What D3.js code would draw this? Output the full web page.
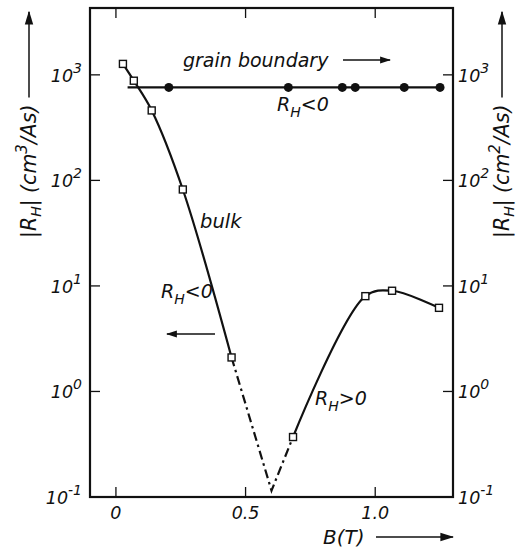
<!DOCTYPE html>
<html><head><meta charset="utf-8">
<script src="https://cdn.jsdelivr.net/npm/d3@7"></script>
<style>
body{margin:0;background:#fff;}
text{font-family:"DejaVu Sans",sans-serif;font-style:italic;fill:#111;}
</style></head>
<body><svg id="c" width="525" height="550"></svg>
<script>
// ---- data ----
const bulkNegB = [0.027, 0.069, 0.138, 0.258, 0.446];
const bulkNegR = [1270, 880, 460, 82, 2.1];
const bulkDipB = [0.446, 0.600, 0.683];
const bulkDipR = [2.1, 0.115, 0.37];
const bulkPosB = [0.683, 0.962, 1.065, 1.246];
const bulkPosR = [0.37, 8.0, 9.0, 6.2];
const gbLineB = [0.045, 1.25];
const gbLineR = [760, 760];
const gbB = [0.204, 0.665, 0.873, 0.923, 1.112, 1.25];
const gbR = [760, 760, 760, 760, 760, 760];
const xTicks = [0, 0.5, 1.0];
const xTickLabels = ["0", "0.5", "1.0"];
const yTicks = [0.1, 1, 10, 100, 1000];
const yTickExps = ["-1", "0", "1", "2", "3"];

const svg = d3.select("#c");
const L = 90, R = 453, T = 8, B = 497;
const x = d3.scaleLinear().domain([-0.1, 1.3]).range([L, R]);
const y = d3.scaleLog().domain([0.1, 4300]).range([B, T]);

const defs = svg.append("defs");
defs.append("marker").attr("id","ah").attr("viewBox","0 0 10 10").attr("refX",9).attr("refY",5)
  .attr("markerWidth",11).attr("markerHeight",11).attr("markerUnits","userSpaceOnUse").attr("orient","auto")
  .append("path").attr("d","M0,1.8 L10,5 L0,8.2 Z").attr("fill","#111");
defs.append("marker").attr("id","ahBig").attr("viewBox","0 0 10 10").attr("refX",9).attr("refY",5)
  .attr("markerWidth",14).attr("markerHeight",14).attr("markerUnits","userSpaceOnUse").attr("orient","auto")
  .append("path").attr("d","M0,2 L10,5 L0,8 Z").attr("fill","#111");

// frame
svg.append("rect").attr("x",L).attr("y",T).attr("width",R-L).attr("height",B-T)
  .attr("fill","none").attr("stroke","#111").attr("stroke-width",2.2);

// ticks (inward)
const tl = 10;
xTicks.forEach(v=>{
  svg.append("line").attr("x1",x(v)).attr("x2",x(v)).attr("y1",B).attr("y2",B-tl).attr("stroke","#111").attr("stroke-width",1.3);
  svg.append("line").attr("x1",x(v)).attr("x2",x(v)).attr("y1",T).attr("y2",T+tl).attr("stroke","#111").attr("stroke-width",1.3);
});
yTicks.forEach(v=>{
  svg.append("line").attr("x1",L).attr("x2",L+tl).attr("y1",y(v)).attr("y2",y(v)).attr("stroke","#111").attr("stroke-width",1.3);
  svg.append("line").attr("x1",R).attr("x2",R-tl).attr("y1",y(v)).attr("y2",y(v)).attr("stroke","#111").attr("stroke-width",1.3);
});

// x tick labels
xTicks.forEach((v,i)=>{
  svg.append("text").attr("x",x(v)).attr("y",519).attr("text-anchor","middle")
    .attr("font-size",17.5).text(xTickLabels[i]);
});
// y tick labels (left and right)
function powLabel(g, xx, yy, exp, anchor){
  const t = g.append("text").attr("x",xx).attr("y",yy+7).attr("text-anchor",anchor).attr("font-size",17.5);
  t.append("tspan").text("10");
  t.append("tspan").attr("dy",-9).attr("font-size",14).text(exp);
  return t;
}
yTicks.forEach((v,i)=>{
  powLabel(svg, 82, y(v), yTickExps[i], "end");
  powLabel(svg, 458, y(v), yTickExps[i], "start");
});

// x axis label
svg.append("text").attr("x",323).attr("y",544).attr("font-size",20).text("B(T)");
svg.append("line").attr("x1",376).attr("x2",453).attr("y1",537).attr("y2",537)
  .attr("stroke","#111").attr("stroke-width",1.5).attr("marker-end","url(#ahBig)");

// vertical axis labels
function vLabel(cx, exp){
  const g = svg.append("g").attr("transform",`translate(${cx},238) rotate(-90)`);
  const t = g.append("text").attr("x",0).attr("y",0).attr("font-size",20.5);
  t.append("tspan").text("|R");
  t.append("tspan").attr("dy",5).attr("font-size",14).text("H");
  t.append("tspan").attr("dy",-5).text("| (cm");
  t.append("tspan").attr("dy",-9).attr("font-size",15).text(exp);
  t.append("tspan").attr("dy",9).text("/As)");
  const w = t.node().getComputedTextLength();
  g.append("line").attr("x1",w+7).attr("x2",226).attr("y1",-7).attr("y2",-7)
    .attr("stroke","#111").attr("stroke-width",1.5).attr("marker-end","url(#ahBig)");
}
vLabel(36, "3");
vLabel(509, "2");

// curves
const line = d3.line().x(d=>x(d[0])).y(d=>y(d[1]));
const zip = (a,b)=>a.map((v,i)=>[v,b[i]]);
svg.append("path").datum(zip(gbLineB,gbLineR)).attr("d",line).attr("fill","none").attr("stroke","#111").attr("stroke-width",2.2);
svg.append("path").datum(zip(bulkNegB,bulkNegR)).attr("d",line.curve(d3.curveCatmullRom.alpha(0.5)))
  .attr("fill","none").attr("stroke","#111").attr("stroke-width",2.2);
svg.append("path").datum(zip(bulkPosB,bulkPosR)).attr("d",line.curve(d3.curveCatmullRom.alpha(0.5)))
  .attr("fill","none").attr("stroke","#111").attr("stroke-width",2.2);
svg.append("path").datum(zip(bulkDipB,bulkDipR)).attr("d",line.curve(d3.curveLinear))
  .attr("fill","none").attr("stroke","#111").attr("stroke-width",2.2).attr("stroke-dasharray","9,4,2.5,4");

// markers
svg.selectAll("circle.gb").data(zip(gbB,gbR)).join("circle")
  .attr("cx",d=>x(d[0])).attr("cy",d=>y(d[1])).attr("r",4.5).attr("fill","#111");
const sq = 7;
svg.selectAll("rect.sq").data(zip(bulkNegB,bulkNegR).concat(zip(bulkPosB,bulkPosR))).join("rect")
  .attr("x",d=>x(d[0])-sq/2).attr("y",d=>y(d[1])-sq/2).attr("width",sq).attr("height",sq)
  .attr("fill","#fff").attr("stroke","#111").attr("stroke-width",1.4);

// annotations
svg.append("text").attr("x",183).attr("y",67).attr("font-size",19).text("grain boundary");
svg.append("line").attr("x1",343).attr("x2",390).attr("y1",60).attr("y2",60)
  .attr("stroke","#111").attr("stroke-width",1.5).attr("marker-end","url(#ah)");
function rh(xx, yy, sign){
  const t = svg.append("text").attr("x",xx).attr("y",yy).attr("font-size",19);
  t.append("tspan").text("R");
  t.append("tspan").attr("dy",6).attr("font-size",14).text("H");
  t.append("tspan").attr("dy",-6).text(sign+"0");
}
rh(277, 111, "<");
rh(161, 298, "<");
rh(315, 405, ">");
svg.append("text").attr("x",200).attr("y",228).attr("font-size",19.5).text("bulk");
svg.append("line").attr("x1",215).attr("x2",167).attr("y1",334).attr("y2",334)
  .attr("stroke","#111").attr("stroke-width",1.5).attr("marker-end","url(#ah)");
</script></body></html>
